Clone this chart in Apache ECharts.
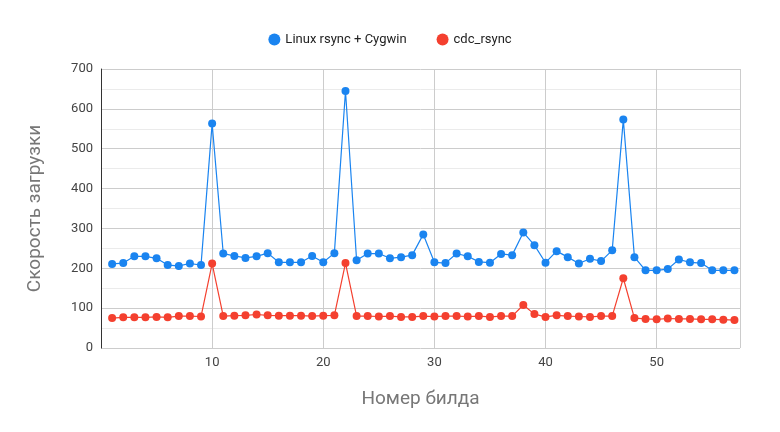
<!DOCTYPE html>
<html><head><meta charset="utf-8">
<script src="https://cdn.jsdelivr.net/npm/echarts@6/dist/echarts.min.js"></script>
<style>html,body{margin:0;background:#fff}#c{width:780px;height:432px}</style>
</head><body><div id="c"></div>
<script>
const builds = Array.from({length:57},(_,i)=>i+1);
const linuxRsync = [211,213,230,230,225,208,206,212,208,563,237,231,226,230,238,215,215,215,231,215,238,645,220,237,237,225,228,233,285,215,213,237,230,216,214,236,233,290,258,214,243,228,212,224,218,245,573,228,195,195,198,222,215,213,195,195,195];
const cdcRsync = [75,77,77,77,78,77,80,80,79,212,80,81,82,84,82,81,81,81,80,81,82,213,80,80,79,80,78,78,80,79,80,80,79,80,78,80,80,108,85,78,82,80,79,78,80,80,175,75,73,72,74,73,73,72,72,71,70];
const seriesNames = ['Linux rsync + Cygwin','cdc_rsync'];
const chart = echarts.init(document.getElementById('c'));
const mk = (name, vals, color) => ({
  name, type:'line', data: builds.map((b,i)=>[b, vals[i]]),
  symbol:'circle', symbolSize:8, itemStyle:{color}, lineStyle:{width:1.2,color}
});
chart.setOption({
  animation:false,
  legend:{top:28,left:'center',icon:'circle',itemWidth:12,itemHeight:12,itemGap:30,
    textStyle:{fontFamily:'Roboto',fontSize:13,color:'#222'}},
  grid:{left:101,right:40,top:69,bottom:84},
  xAxis:{type:'value',min:0,max:57.5,interval:10,
    axisLabel:{fontFamily:'Roboto',fontSize:13,color:'#444',formatter:v=>v>0&&v%10===0?v:''},
    splitLine:{show:true,lineStyle:{color:'#ccc'}},
    axisLine:{show:false},axisTick:{show:false},
    name:'Номер билда',nameLocation:'middle',nameGap:42,
    nameTextStyle:{fontFamily:'Roboto',fontSize:19,color:'#777'}},
  yAxis:{type:'value',min:0,max:700,interval:100,
    axisLabel:{fontFamily:'Roboto',fontSize:13,color:'#444'},
    splitLine:{lineStyle:{color:'#ccc'}},
    minorTick:{show:false,splitNumber:2},
    minorSplitLine:{show:true,lineStyle:{color:'#ebebeb'}},
    axisLine:{show:true,lineStyle:{color:'#333'}},axisTick:{show:false},
    name:'Скорость загрузки',nameLocation:'middle',nameGap:56,
    nameTextStyle:{fontFamily:'Roboto',fontSize:19,color:'#777'}},
  series:[mk(seriesNames[0],linuxRsync,'#1a84f0'),mk(seriesNames[1],cdcRsync,'#f4402f')]
});
</script></body></html>
